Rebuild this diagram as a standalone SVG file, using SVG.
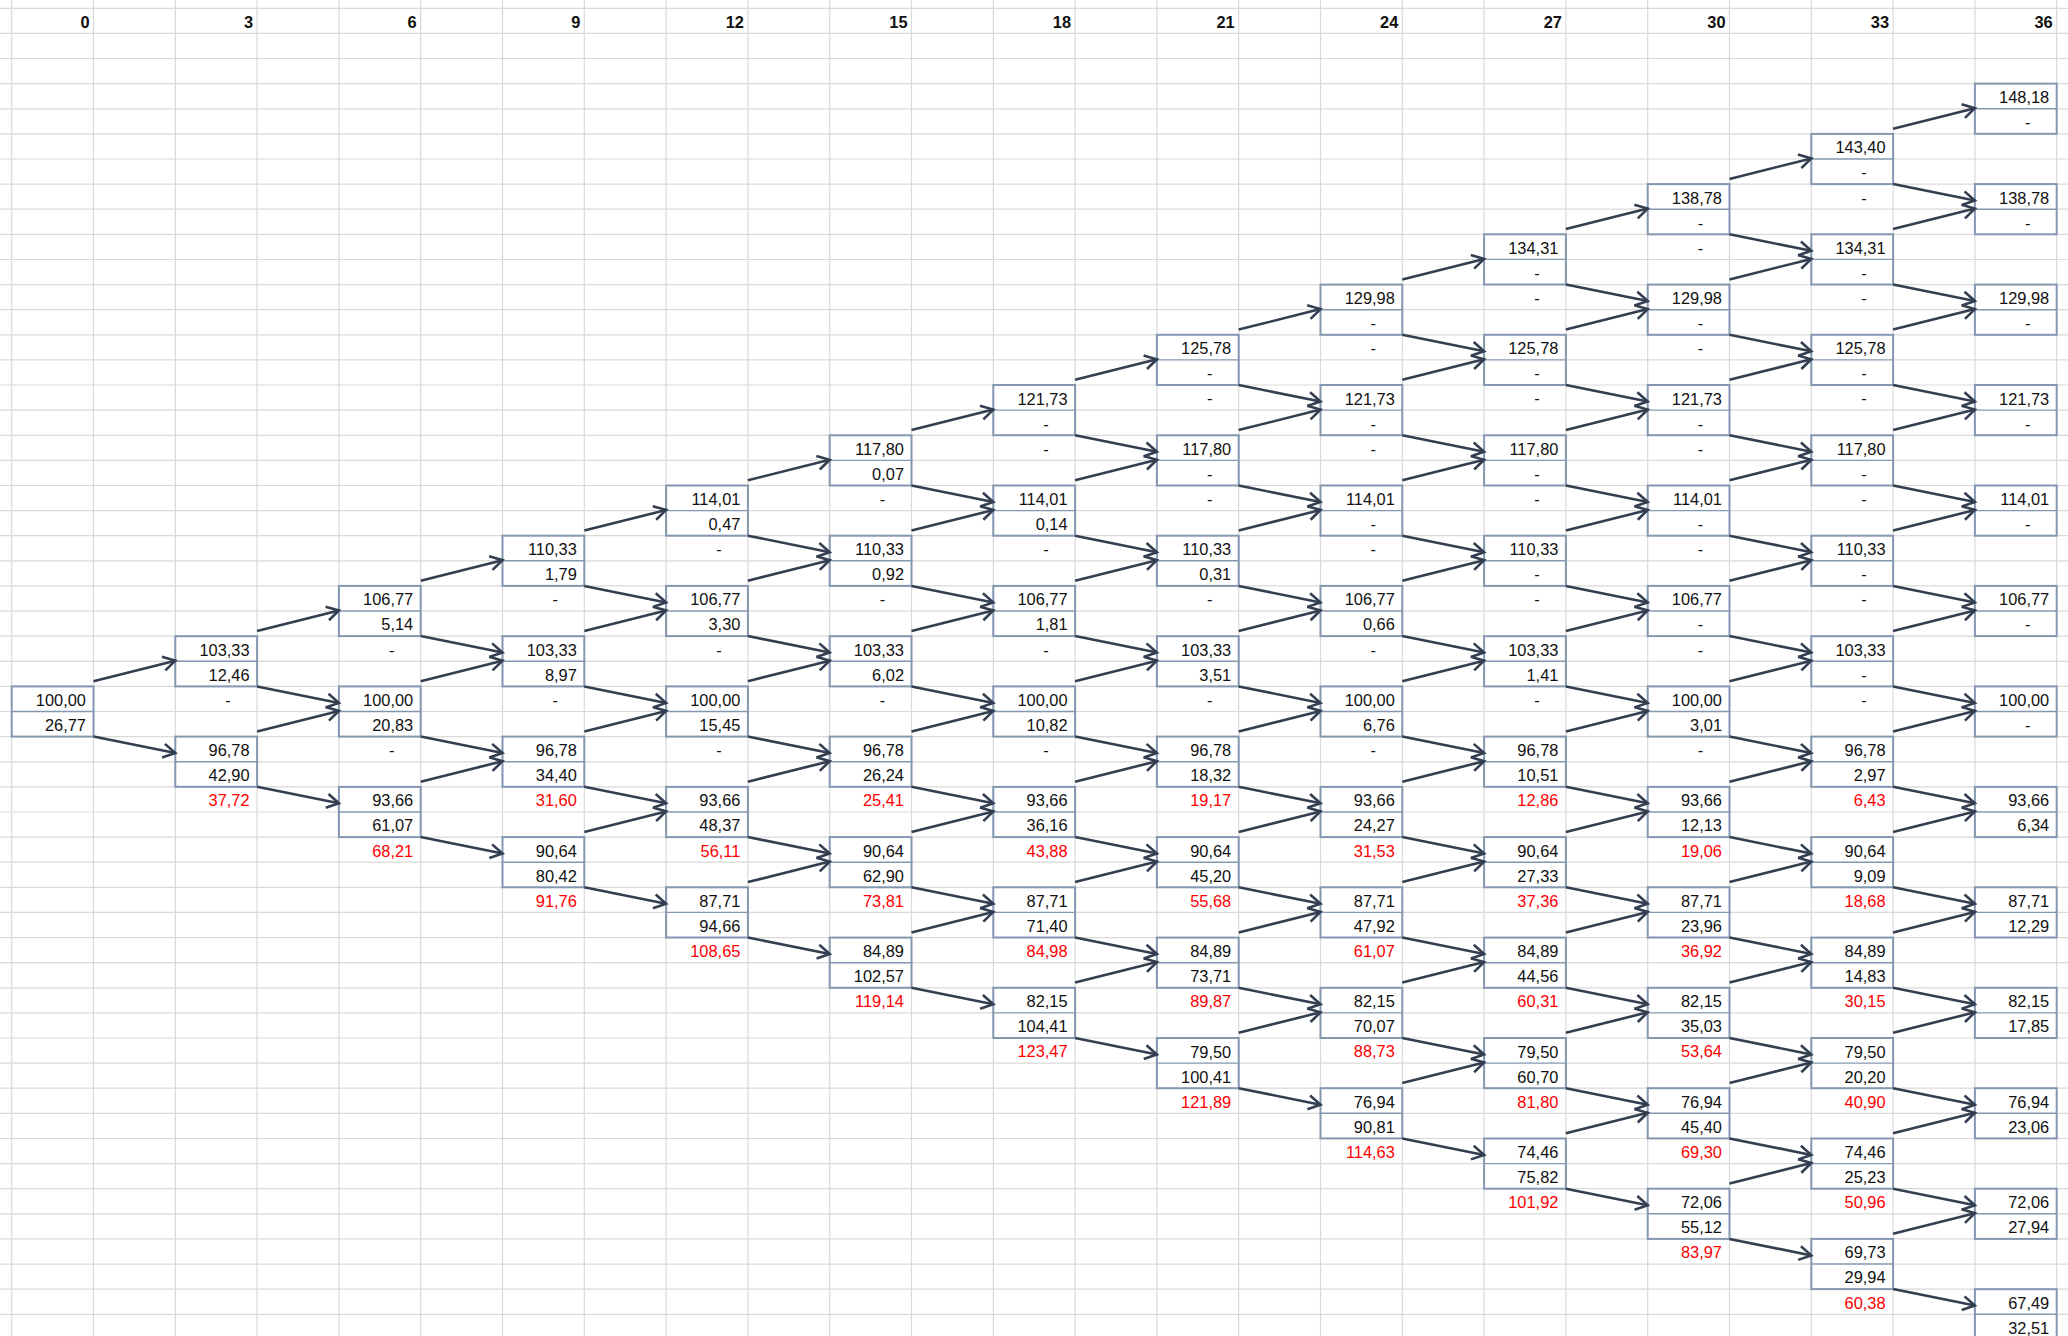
<svg xmlns="http://www.w3.org/2000/svg" width="2068" height="1336" viewBox="0 0 2068 1336">
<style>
.g{stroke:#D9D9D9;stroke-width:1.2;fill:none}
.b{fill:#fff;stroke:#8497B0;stroke-width:2}
.m{stroke:#8497B0;stroke-width:1.4;fill:none}
text{font-family:"Liberation Sans",Arial,sans-serif;font-size:16.4px;fill:#111}
.n{text-anchor:end}
.d{text-anchor:middle}
.r{fill:#FF0000}
.h{font-weight:bold;text-anchor:end}
.a{stroke:#333F50;stroke-width:2.6;fill:none;marker-end:url(#ah)}
</style>
<defs>
<marker id="ah" markerUnits="userSpaceOnUse" markerWidth="20" markerHeight="20" viewBox="-15 -10 20 20" refX="0" refY="0" orient="auto" overflow="visible">
<path d="M-12,-7 L0,0 L-12,7" fill="none" stroke="#333F50" stroke-width="2.6" stroke-linejoin="miter"/>
</marker>
</defs>
<rect width="2068" height="1336" fill="#fff"/>
<g id="grid">
<path class="g" d="M11.7,0V1336M93.5,0V1336M175.3,0V1336M257.1,0V1336M338.9,0V1336M420.7,0V1336M502.5,0V1336M584.3,0V1336M666.1,0V1336M747.9,0V1336M829.7,0V1336M911.5,0V1336M993.3,0V1336M1075.1,0V1336M1156.9,0V1336M1238.7,0V1336M1320.5,0V1336M1402.3,0V1336M1484.1,0V1336M1565.9,0V1336M1647.7,0V1336M1729.5,0V1336M1811.3,0V1336M1893.1,0V1336M1974.9,0V1336M2056.7,0V1336"/>
<path class="g" d="M0,8.3H2068M0,33.4H2068M0,58.5H2068M0,83.6H2068M0,108.8H2068M0,133.9H2068M0,159H2068M0,184.1H2068M0,209.2H2068M0,234.3H2068M0,259.5H2068M0,284.6H2068M0,309.7H2068M0,334.8H2068M0,359.9H2068M0,385H2068M0,410.1H2068M0,435.3H2068M0,460.4H2068M0,485.5H2068M0,510.6H2068M0,535.7H2068M0,560.8H2068M0,585.9H2068M0,611.1H2068M0,636.2H2068M0,661.3H2068M0,686.4H2068M0,711.5H2068M0,736.6H2068M0,761.8H2068M0,786.9H2068M0,812H2068M0,837.1H2068M0,862.2H2068M0,887.3H2068M0,912.4H2068M0,937.6H2068M0,962.7H2068M0,987.8H2068M0,1012.9H2068M0,1038H2068M0,1063.1H2068M0,1088.2H2068M0,1113.4H2068M0,1138.5H2068M0,1163.6H2068M0,1188.7H2068M0,1213.8H2068M0,1238.9H2068M0,1264.1H2068M0,1289.2H2068M0,1314.3H2068"/>
</g>
<g id="header">
<text class="h" x="89.5" y="27.8">0</text>
<text class="h" x="253.1" y="27.8">3</text>
<text class="h" x="416.7" y="27.8">6</text>
<text class="h" x="580.3" y="27.8">9</text>
<text class="h" x="743.9" y="27.8">12</text>
<text class="h" x="907.5" y="27.8">15</text>
<text class="h" x="1071.1" y="27.8">18</text>
<text class="h" x="1234.7" y="27.8">21</text>
<text class="h" x="1398.3" y="27.8">24</text>
<text class="h" x="1561.9" y="27.8">27</text>
<text class="h" x="1725.5" y="27.8">30</text>
<text class="h" x="1889.1" y="27.8">33</text>
<text class="h" x="2052.7" y="27.8">36</text>
</g>
<g id="nodes">
<g id="n0_0" transform="translate(11.7,686.4)"><rect class="b" width="81.8" height="50.2"/><path class="m" d="M0,25.1h81.8"/><text class="n" x="74.3" y="19.5">100,00</text><text class="n" x="74.3" y="44.6">26,77</text></g>

<g id="n1_p1" transform="translate(175.3,636.2)"><rect class="b" width="81.8" height="50.2"/><path class="m" d="M0,25.1h81.8"/><text class="n" x="74.3" y="19.5">103,33</text><text class="n" x="74.3" y="44.6">12,46</text><text class="d" x="52.8" y="69.7">-</text></g>
<g id="n1_m1" transform="translate(175.3,736.6)"><rect class="b" width="81.8" height="50.2"/><path class="m" d="M0,25.1h81.8"/><text class="n" x="74.3" y="19.5">96,78</text><text class="n" x="74.3" y="44.6">42,90</text><text class="n r" x="74.3" y="69.7">37,72</text></g>

<g id="n2_p2" transform="translate(338.9,585.9)"><rect class="b" width="81.8" height="50.2"/><path class="m" d="M0,25.1h81.8"/><text class="n" x="74.3" y="19.5">106,77</text><text class="n" x="74.3" y="44.6">5,14</text><text class="d" x="52.8" y="69.7">-</text></g>
<g id="n2_0" transform="translate(338.9,686.4)"><rect class="b" width="81.8" height="50.2"/><path class="m" d="M0,25.1h81.8"/><text class="n" x="74.3" y="19.5">100,00</text><text class="n" x="74.3" y="44.6">20,83</text><text class="d" x="52.8" y="69.7">-</text></g>
<g id="n2_m2" transform="translate(338.9,786.9)"><rect class="b" width="81.8" height="50.2"/><path class="m" d="M0,25.1h81.8"/><text class="n" x="74.3" y="19.5">93,66</text><text class="n" x="74.3" y="44.6">61,07</text><text class="n r" x="74.3" y="69.7">68,21</text></g>

<g id="n3_p3" transform="translate(502.5,535.7)"><rect class="b" width="81.8" height="50.2"/><path class="m" d="M0,25.1h81.8"/><text class="n" x="74.3" y="19.5">110,33</text><text class="n" x="74.3" y="44.6">1,79</text><text class="d" x="52.8" y="69.7">-</text></g>
<g id="n3_p1" transform="translate(502.5,636.2)"><rect class="b" width="81.8" height="50.2"/><path class="m" d="M0,25.1h81.8"/><text class="n" x="74.3" y="19.5">103,33</text><text class="n" x="74.3" y="44.6">8,97</text><text class="d" x="52.8" y="69.7">-</text></g>
<g id="n3_m1" transform="translate(502.5,736.6)"><rect class="b" width="81.8" height="50.2"/><path class="m" d="M0,25.1h81.8"/><text class="n" x="74.3" y="19.5">96,78</text><text class="n" x="74.3" y="44.6">34,40</text><text class="n r" x="74.3" y="69.7">31,60</text></g>
<g id="n3_m3" transform="translate(502.5,837.1)"><rect class="b" width="81.8" height="50.2"/><path class="m" d="M0,25.1h81.8"/><text class="n" x="74.3" y="19.5">90,64</text><text class="n" x="74.3" y="44.6">80,42</text><text class="n r" x="74.3" y="69.7">91,76</text></g>

<g id="n4_p4" transform="translate(666.1,485.5)"><rect class="b" width="81.8" height="50.2"/><path class="m" d="M0,25.1h81.8"/><text class="n" x="74.3" y="19.5">114,01</text><text class="n" x="74.3" y="44.6">0,47</text><text class="d" x="52.8" y="69.7">-</text></g>
<g id="n4_p2" transform="translate(666.1,585.9)"><rect class="b" width="81.8" height="50.2"/><path class="m" d="M0,25.1h81.8"/><text class="n" x="74.3" y="19.5">106,77</text><text class="n" x="74.3" y="44.6">3,30</text><text class="d" x="52.8" y="69.7">-</text></g>
<g id="n4_0" transform="translate(666.1,686.4)"><rect class="b" width="81.8" height="50.2"/><path class="m" d="M0,25.1h81.8"/><text class="n" x="74.3" y="19.5">100,00</text><text class="n" x="74.3" y="44.6">15,45</text><text class="d" x="52.8" y="69.7">-</text></g>
<g id="n4_m2" transform="translate(666.1,786.9)"><rect class="b" width="81.8" height="50.2"/><path class="m" d="M0,25.1h81.8"/><text class="n" x="74.3" y="19.5">93,66</text><text class="n" x="74.3" y="44.6">48,37</text><text class="n r" x="74.3" y="69.7">56,11</text></g>
<g id="n4_m4" transform="translate(666.1,887.3)"><rect class="b" width="81.8" height="50.2"/><path class="m" d="M0,25.1h81.8"/><text class="n" x="74.3" y="19.5">87,71</text><text class="n" x="74.3" y="44.6">94,66</text><text class="n r" x="74.3" y="69.7">108,65</text></g>

<g id="n5_p5" transform="translate(829.7,435.3)"><rect class="b" width="81.8" height="50.2"/><path class="m" d="M0,25.1h81.8"/><text class="n" x="74.3" y="19.5">117,80</text><text class="n" x="74.3" y="44.6">0,07</text><text class="d" x="52.8" y="69.7">-</text></g>
<g id="n5_p3" transform="translate(829.7,535.7)"><rect class="b" width="81.8" height="50.2"/><path class="m" d="M0,25.1h81.8"/><text class="n" x="74.3" y="19.5">110,33</text><text class="n" x="74.3" y="44.6">0,92</text><text class="d" x="52.8" y="69.7">-</text></g>
<g id="n5_p1" transform="translate(829.7,636.2)"><rect class="b" width="81.8" height="50.2"/><path class="m" d="M0,25.1h81.8"/><text class="n" x="74.3" y="19.5">103,33</text><text class="n" x="74.3" y="44.6">6,02</text><text class="d" x="52.8" y="69.7">-</text></g>
<g id="n5_m1" transform="translate(829.7,736.6)"><rect class="b" width="81.8" height="50.2"/><path class="m" d="M0,25.1h81.8"/><text class="n" x="74.3" y="19.5">96,78</text><text class="n" x="74.3" y="44.6">26,24</text><text class="n r" x="74.3" y="69.7">25,41</text></g>
<g id="n5_m3" transform="translate(829.7,837.1)"><rect class="b" width="81.8" height="50.2"/><path class="m" d="M0,25.1h81.8"/><text class="n" x="74.3" y="19.5">90,64</text><text class="n" x="74.3" y="44.6">62,90</text><text class="n r" x="74.3" y="69.7">73,81</text></g>
<g id="n5_m5" transform="translate(829.7,937.6)"><rect class="b" width="81.8" height="50.2"/><path class="m" d="M0,25.1h81.8"/><text class="n" x="74.3" y="19.5">84,89</text><text class="n" x="74.3" y="44.6">102,57</text><text class="n r" x="74.3" y="69.7">119,14</text></g>

<g id="n6_p6" transform="translate(993.3,385)"><rect class="b" width="81.8" height="50.2"/><path class="m" d="M0,25.1h81.8"/><text class="n" x="74.3" y="19.5">121,73</text><text class="d" x="52.8" y="44.6">-</text><text class="d" x="52.8" y="69.7">-</text></g>
<g id="n6_p4" transform="translate(993.3,485.5)"><rect class="b" width="81.8" height="50.2"/><path class="m" d="M0,25.1h81.8"/><text class="n" x="74.3" y="19.5">114,01</text><text class="n" x="74.3" y="44.6">0,14</text><text class="d" x="52.8" y="69.7">-</text></g>
<g id="n6_p2" transform="translate(993.3,585.9)"><rect class="b" width="81.8" height="50.2"/><path class="m" d="M0,25.1h81.8"/><text class="n" x="74.3" y="19.5">106,77</text><text class="n" x="74.3" y="44.6">1,81</text><text class="d" x="52.8" y="69.7">-</text></g>
<g id="n6_0" transform="translate(993.3,686.4)"><rect class="b" width="81.8" height="50.2"/><path class="m" d="M0,25.1h81.8"/><text class="n" x="74.3" y="19.5">100,00</text><text class="n" x="74.3" y="44.6">10,82</text><text class="d" x="52.8" y="69.7">-</text></g>
<g id="n6_m2" transform="translate(993.3,786.9)"><rect class="b" width="81.8" height="50.2"/><path class="m" d="M0,25.1h81.8"/><text class="n" x="74.3" y="19.5">93,66</text><text class="n" x="74.3" y="44.6">36,16</text><text class="n r" x="74.3" y="69.7">43,88</text></g>
<g id="n6_m4" transform="translate(993.3,887.3)"><rect class="b" width="81.8" height="50.2"/><path class="m" d="M0,25.1h81.8"/><text class="n" x="74.3" y="19.5">87,71</text><text class="n" x="74.3" y="44.6">71,40</text><text class="n r" x="74.3" y="69.7">84,98</text></g>
<g id="n6_m6" transform="translate(993.3,987.8)"><rect class="b" width="81.8" height="50.2"/><path class="m" d="M0,25.1h81.8"/><text class="n" x="74.3" y="19.5">82,15</text><text class="n" x="74.3" y="44.6">104,41</text><text class="n r" x="74.3" y="69.7">123,47</text></g>

<g id="n7_p7" transform="translate(1156.9,334.8)"><rect class="b" width="81.8" height="50.2"/><path class="m" d="M0,25.1h81.8"/><text class="n" x="74.3" y="19.5">125,78</text><text class="d" x="52.8" y="44.6">-</text><text class="d" x="52.8" y="69.7">-</text></g>
<g id="n7_p5" transform="translate(1156.9,435.3)"><rect class="b" width="81.8" height="50.2"/><path class="m" d="M0,25.1h81.8"/><text class="n" x="74.3" y="19.5">117,80</text><text class="d" x="52.8" y="44.6">-</text><text class="d" x="52.8" y="69.7">-</text></g>
<g id="n7_p3" transform="translate(1156.9,535.7)"><rect class="b" width="81.8" height="50.2"/><path class="m" d="M0,25.1h81.8"/><text class="n" x="74.3" y="19.5">110,33</text><text class="n" x="74.3" y="44.6">0,31</text><text class="d" x="52.8" y="69.7">-</text></g>
<g id="n7_p1" transform="translate(1156.9,636.2)"><rect class="b" width="81.8" height="50.2"/><path class="m" d="M0,25.1h81.8"/><text class="n" x="74.3" y="19.5">103,33</text><text class="n" x="74.3" y="44.6">3,51</text><text class="d" x="52.8" y="69.7">-</text></g>
<g id="n7_m1" transform="translate(1156.9,736.6)"><rect class="b" width="81.8" height="50.2"/><path class="m" d="M0,25.1h81.8"/><text class="n" x="74.3" y="19.5">96,78</text><text class="n" x="74.3" y="44.6">18,32</text><text class="n r" x="74.3" y="69.7">19,17</text></g>
<g id="n7_m3" transform="translate(1156.9,837.1)"><rect class="b" width="81.8" height="50.2"/><path class="m" d="M0,25.1h81.8"/><text class="n" x="74.3" y="19.5">90,64</text><text class="n" x="74.3" y="44.6">45,20</text><text class="n r" x="74.3" y="69.7">55,68</text></g>
<g id="n7_m5" transform="translate(1156.9,937.6)"><rect class="b" width="81.8" height="50.2"/><path class="m" d="M0,25.1h81.8"/><text class="n" x="74.3" y="19.5">84,89</text><text class="n" x="74.3" y="44.6">73,71</text><text class="n r" x="74.3" y="69.7">89,87</text></g>
<g id="n7_m7" transform="translate(1156.9,1038)"><rect class="b" width="81.8" height="50.2"/><path class="m" d="M0,25.1h81.8"/><text class="n" x="74.3" y="19.5">79,50</text><text class="n" x="74.3" y="44.6">100,41</text><text class="n r" x="74.3" y="69.7">121,89</text></g>

<g id="n8_p8" transform="translate(1320.5,284.6)"><rect class="b" width="81.8" height="50.2"/><path class="m" d="M0,25.1h81.8"/><text class="n" x="74.3" y="19.5">129,98</text><text class="d" x="52.8" y="44.6">-</text><text class="d" x="52.8" y="69.7">-</text></g>
<g id="n8_p6" transform="translate(1320.5,385)"><rect class="b" width="81.8" height="50.2"/><path class="m" d="M0,25.1h81.8"/><text class="n" x="74.3" y="19.5">121,73</text><text class="d" x="52.8" y="44.6">-</text><text class="d" x="52.8" y="69.7">-</text></g>
<g id="n8_p4" transform="translate(1320.5,485.5)"><rect class="b" width="81.8" height="50.2"/><path class="m" d="M0,25.1h81.8"/><text class="n" x="74.3" y="19.5">114,01</text><text class="d" x="52.8" y="44.6">-</text><text class="d" x="52.8" y="69.7">-</text></g>
<g id="n8_p2" transform="translate(1320.5,585.9)"><rect class="b" width="81.8" height="50.2"/><path class="m" d="M0,25.1h81.8"/><text class="n" x="74.3" y="19.5">106,77</text><text class="n" x="74.3" y="44.6">0,66</text><text class="d" x="52.8" y="69.7">-</text></g>
<g id="n8_0" transform="translate(1320.5,686.4)"><rect class="b" width="81.8" height="50.2"/><path class="m" d="M0,25.1h81.8"/><text class="n" x="74.3" y="19.5">100,00</text><text class="n" x="74.3" y="44.6">6,76</text><text class="d" x="52.8" y="69.7">-</text></g>
<g id="n8_m2" transform="translate(1320.5,786.9)"><rect class="b" width="81.8" height="50.2"/><path class="m" d="M0,25.1h81.8"/><text class="n" x="74.3" y="19.5">93,66</text><text class="n" x="74.3" y="44.6">24,27</text><text class="n r" x="74.3" y="69.7">31,53</text></g>
<g id="n8_m4" transform="translate(1320.5,887.3)"><rect class="b" width="81.8" height="50.2"/><path class="m" d="M0,25.1h81.8"/><text class="n" x="74.3" y="19.5">87,71</text><text class="n" x="74.3" y="44.6">47,92</text><text class="n r" x="74.3" y="69.7">61,07</text></g>
<g id="n8_m6" transform="translate(1320.5,987.8)"><rect class="b" width="81.8" height="50.2"/><path class="m" d="M0,25.1h81.8"/><text class="n" x="74.3" y="19.5">82,15</text><text class="n" x="74.3" y="44.6">70,07</text><text class="n r" x="74.3" y="69.7">88,73</text></g>
<g id="n8_m8" transform="translate(1320.5,1088.2)"><rect class="b" width="81.8" height="50.2"/><path class="m" d="M0,25.1h81.8"/><text class="n" x="74.3" y="19.5">76,94</text><text class="n" x="74.3" y="44.6">90,81</text><text class="n r" x="74.3" y="69.7">114,63</text></g>

<g id="n9_p9" transform="translate(1484.1,234.3)"><rect class="b" width="81.8" height="50.2"/><path class="m" d="M0,25.1h81.8"/><text class="n" x="74.3" y="19.5">134,31</text><text class="d" x="52.8" y="44.6">-</text><text class="d" x="52.8" y="69.7">-</text></g>
<g id="n9_p7" transform="translate(1484.1,334.8)"><rect class="b" width="81.8" height="50.2"/><path class="m" d="M0,25.1h81.8"/><text class="n" x="74.3" y="19.5">125,78</text><text class="d" x="52.8" y="44.6">-</text><text class="d" x="52.8" y="69.7">-</text></g>
<g id="n9_p5" transform="translate(1484.1,435.3)"><rect class="b" width="81.8" height="50.2"/><path class="m" d="M0,25.1h81.8"/><text class="n" x="74.3" y="19.5">117,80</text><text class="d" x="52.8" y="44.6">-</text><text class="d" x="52.8" y="69.7">-</text></g>
<g id="n9_p3" transform="translate(1484.1,535.7)"><rect class="b" width="81.8" height="50.2"/><path class="m" d="M0,25.1h81.8"/><text class="n" x="74.3" y="19.5">110,33</text><text class="d" x="52.8" y="44.6">-</text><text class="d" x="52.8" y="69.7">-</text></g>
<g id="n9_p1" transform="translate(1484.1,636.2)"><rect class="b" width="81.8" height="50.2"/><path class="m" d="M0,25.1h81.8"/><text class="n" x="74.3" y="19.5">103,33</text><text class="n" x="74.3" y="44.6">1,41</text><text class="d" x="52.8" y="69.7">-</text></g>
<g id="n9_m1" transform="translate(1484.1,736.6)"><rect class="b" width="81.8" height="50.2"/><path class="m" d="M0,25.1h81.8"/><text class="n" x="74.3" y="19.5">96,78</text><text class="n" x="74.3" y="44.6">10,51</text><text class="n r" x="74.3" y="69.7">12,86</text></g>
<g id="n9_m3" transform="translate(1484.1,837.1)"><rect class="b" width="81.8" height="50.2"/><path class="m" d="M0,25.1h81.8"/><text class="n" x="74.3" y="19.5">90,64</text><text class="n" x="74.3" y="44.6">27,33</text><text class="n r" x="74.3" y="69.7">37,36</text></g>
<g id="n9_m5" transform="translate(1484.1,937.6)"><rect class="b" width="81.8" height="50.2"/><path class="m" d="M0,25.1h81.8"/><text class="n" x="74.3" y="19.5">84,89</text><text class="n" x="74.3" y="44.6">44,56</text><text class="n r" x="74.3" y="69.7">60,31</text></g>
<g id="n9_m7" transform="translate(1484.1,1038)"><rect class="b" width="81.8" height="50.2"/><path class="m" d="M0,25.1h81.8"/><text class="n" x="74.3" y="19.5">79,50</text><text class="n" x="74.3" y="44.6">60,70</text><text class="n r" x="74.3" y="69.7">81,80</text></g>
<g id="n9_m9" transform="translate(1484.1,1138.5)"><rect class="b" width="81.8" height="50.2"/><path class="m" d="M0,25.1h81.8"/><text class="n" x="74.3" y="19.5">74,46</text><text class="n" x="74.3" y="44.6">75,82</text><text class="n r" x="74.3" y="69.7">101,92</text></g>

<g id="n10_p10" transform="translate(1647.7,184.1)"><rect class="b" width="81.8" height="50.2"/><path class="m" d="M0,25.1h81.8"/><text class="n" x="74.3" y="19.5">138,78</text><text class="d" x="52.8" y="44.6">-</text><text class="d" x="52.8" y="69.7">-</text></g>
<g id="n10_p8" transform="translate(1647.7,284.6)"><rect class="b" width="81.8" height="50.2"/><path class="m" d="M0,25.1h81.8"/><text class="n" x="74.3" y="19.5">129,98</text><text class="d" x="52.8" y="44.6">-</text><text class="d" x="52.8" y="69.7">-</text></g>
<g id="n10_p6" transform="translate(1647.7,385)"><rect class="b" width="81.8" height="50.2"/><path class="m" d="M0,25.1h81.8"/><text class="n" x="74.3" y="19.5">121,73</text><text class="d" x="52.8" y="44.6">-</text><text class="d" x="52.8" y="69.7">-</text></g>
<g id="n10_p4" transform="translate(1647.7,485.5)"><rect class="b" width="81.8" height="50.2"/><path class="m" d="M0,25.1h81.8"/><text class="n" x="74.3" y="19.5">114,01</text><text class="d" x="52.8" y="44.6">-</text><text class="d" x="52.8" y="69.7">-</text></g>
<g id="n10_p2" transform="translate(1647.7,585.9)"><rect class="b" width="81.8" height="50.2"/><path class="m" d="M0,25.1h81.8"/><text class="n" x="74.3" y="19.5">106,77</text><text class="d" x="52.8" y="44.6">-</text><text class="d" x="52.8" y="69.7">-</text></g>
<g id="n10_0" transform="translate(1647.7,686.4)"><rect class="b" width="81.8" height="50.2"/><path class="m" d="M0,25.1h81.8"/><text class="n" x="74.3" y="19.5">100,00</text><text class="n" x="74.3" y="44.6">3,01</text><text class="d" x="52.8" y="69.7">-</text></g>
<g id="n10_m2" transform="translate(1647.7,786.9)"><rect class="b" width="81.8" height="50.2"/><path class="m" d="M0,25.1h81.8"/><text class="n" x="74.3" y="19.5">93,66</text><text class="n" x="74.3" y="44.6">12,13</text><text class="n r" x="74.3" y="69.7">19,06</text></g>
<g id="n10_m4" transform="translate(1647.7,887.3)"><rect class="b" width="81.8" height="50.2"/><path class="m" d="M0,25.1h81.8"/><text class="n" x="74.3" y="19.5">87,71</text><text class="n" x="74.3" y="44.6">23,96</text><text class="n r" x="74.3" y="69.7">36,92</text></g>
<g id="n10_m6" transform="translate(1647.7,987.8)"><rect class="b" width="81.8" height="50.2"/><path class="m" d="M0,25.1h81.8"/><text class="n" x="74.3" y="19.5">82,15</text><text class="n" x="74.3" y="44.6">35,03</text><text class="n r" x="74.3" y="69.7">53,64</text></g>
<g id="n10_m8" transform="translate(1647.7,1088.2)"><rect class="b" width="81.8" height="50.2"/><path class="m" d="M0,25.1h81.8"/><text class="n" x="74.3" y="19.5">76,94</text><text class="n" x="74.3" y="44.6">45,40</text><text class="n r" x="74.3" y="69.7">69,30</text></g>
<g id="n10_m10" transform="translate(1647.7,1188.7)"><rect class="b" width="81.8" height="50.2"/><path class="m" d="M0,25.1h81.8"/><text class="n" x="74.3" y="19.5">72,06</text><text class="n" x="74.3" y="44.6">55,12</text><text class="n r" x="74.3" y="69.7">83,97</text></g>

<g id="n11_p11" transform="translate(1811.3,133.9)"><rect class="b" width="81.8" height="50.2"/><path class="m" d="M0,25.1h81.8"/><text class="n" x="74.3" y="19.5">143,40</text><text class="d" x="52.8" y="44.6">-</text><text class="d" x="52.8" y="69.7">-</text></g>
<g id="n11_p9" transform="translate(1811.3,234.3)"><rect class="b" width="81.8" height="50.2"/><path class="m" d="M0,25.1h81.8"/><text class="n" x="74.3" y="19.5">134,31</text><text class="d" x="52.8" y="44.6">-</text><text class="d" x="52.8" y="69.7">-</text></g>
<g id="n11_p7" transform="translate(1811.3,334.8)"><rect class="b" width="81.8" height="50.2"/><path class="m" d="M0,25.1h81.8"/><text class="n" x="74.3" y="19.5">125,78</text><text class="d" x="52.8" y="44.6">-</text><text class="d" x="52.8" y="69.7">-</text></g>
<g id="n11_p5" transform="translate(1811.3,435.3)"><rect class="b" width="81.8" height="50.2"/><path class="m" d="M0,25.1h81.8"/><text class="n" x="74.3" y="19.5">117,80</text><text class="d" x="52.8" y="44.6">-</text><text class="d" x="52.8" y="69.7">-</text></g>
<g id="n11_p3" transform="translate(1811.3,535.7)"><rect class="b" width="81.8" height="50.2"/><path class="m" d="M0,25.1h81.8"/><text class="n" x="74.3" y="19.5">110,33</text><text class="d" x="52.8" y="44.6">-</text><text class="d" x="52.8" y="69.7">-</text></g>
<g id="n11_p1" transform="translate(1811.3,636.2)"><rect class="b" width="81.8" height="50.2"/><path class="m" d="M0,25.1h81.8"/><text class="n" x="74.3" y="19.5">103,33</text><text class="d" x="52.8" y="44.6">-</text><text class="d" x="52.8" y="69.7">-</text></g>
<g id="n11_m1" transform="translate(1811.3,736.6)"><rect class="b" width="81.8" height="50.2"/><path class="m" d="M0,25.1h81.8"/><text class="n" x="74.3" y="19.5">96,78</text><text class="n" x="74.3" y="44.6">2,97</text><text class="n r" x="74.3" y="69.7">6,43</text></g>
<g id="n11_m3" transform="translate(1811.3,837.1)"><rect class="b" width="81.8" height="50.2"/><path class="m" d="M0,25.1h81.8"/><text class="n" x="74.3" y="19.5">90,64</text><text class="n" x="74.3" y="44.6">9,09</text><text class="n r" x="74.3" y="69.7">18,68</text></g>
<g id="n11_m5" transform="translate(1811.3,937.6)"><rect class="b" width="81.8" height="50.2"/><path class="m" d="M0,25.1h81.8"/><text class="n" x="74.3" y="19.5">84,89</text><text class="n" x="74.3" y="44.6">14,83</text><text class="n r" x="74.3" y="69.7">30,15</text></g>
<g id="n11_m7" transform="translate(1811.3,1038)"><rect class="b" width="81.8" height="50.2"/><path class="m" d="M0,25.1h81.8"/><text class="n" x="74.3" y="19.5">79,50</text><text class="n" x="74.3" y="44.6">20,20</text><text class="n r" x="74.3" y="69.7">40,90</text></g>
<g id="n11_m9" transform="translate(1811.3,1138.5)"><rect class="b" width="81.8" height="50.2"/><path class="m" d="M0,25.1h81.8"/><text class="n" x="74.3" y="19.5">74,46</text><text class="n" x="74.3" y="44.6">25,23</text><text class="n r" x="74.3" y="69.7">50,96</text></g>
<g id="n11_m11" transform="translate(1811.3,1238.9)"><rect class="b" width="81.8" height="50.2"/><path class="m" d="M0,25.1h81.8"/><text class="n" x="74.3" y="19.5">69,73</text><text class="n" x="74.3" y="44.6">29,94</text><text class="n r" x="74.3" y="69.7">60,38</text></g>

<g id="n12_p12" transform="translate(1974.9,83.6)"><rect class="b" width="81.8" height="50.2"/><path class="m" d="M0,25.1h81.8"/><text class="n" x="74.3" y="19.5">148,18</text><text class="d" x="52.8" y="44.6">-</text></g>
<g id="n12_p10" transform="translate(1974.9,184.1)"><rect class="b" width="81.8" height="50.2"/><path class="m" d="M0,25.1h81.8"/><text class="n" x="74.3" y="19.5">138,78</text><text class="d" x="52.8" y="44.6">-</text></g>
<g id="n12_p8" transform="translate(1974.9,284.6)"><rect class="b" width="81.8" height="50.2"/><path class="m" d="M0,25.1h81.8"/><text class="n" x="74.3" y="19.5">129,98</text><text class="d" x="52.8" y="44.6">-</text></g>
<g id="n12_p6" transform="translate(1974.9,385)"><rect class="b" width="81.8" height="50.2"/><path class="m" d="M0,25.1h81.8"/><text class="n" x="74.3" y="19.5">121,73</text><text class="d" x="52.8" y="44.6">-</text></g>
<g id="n12_p4" transform="translate(1974.9,485.5)"><rect class="b" width="81.8" height="50.2"/><path class="m" d="M0,25.1h81.8"/><text class="n" x="74.3" y="19.5">114,01</text><text class="d" x="52.8" y="44.6">-</text></g>
<g id="n12_p2" transform="translate(1974.9,585.9)"><rect class="b" width="81.8" height="50.2"/><path class="m" d="M0,25.1h81.8"/><text class="n" x="74.3" y="19.5">106,77</text><text class="d" x="52.8" y="44.6">-</text></g>
<g id="n12_0" transform="translate(1974.9,686.4)"><rect class="b" width="81.8" height="50.2"/><path class="m" d="M0,25.1h81.8"/><text class="n" x="74.3" y="19.5">100,00</text><text class="d" x="52.8" y="44.6">-</text></g>
<g id="n12_m2" transform="translate(1974.9,786.9)"><rect class="b" width="81.8" height="50.2"/><path class="m" d="M0,25.1h81.8"/><text class="n" x="74.3" y="19.5">93,66</text><text class="n" x="74.3" y="44.6">6,34</text></g>
<g id="n12_m4" transform="translate(1974.9,887.3)"><rect class="b" width="81.8" height="50.2"/><path class="m" d="M0,25.1h81.8"/><text class="n" x="74.3" y="19.5">87,71</text><text class="n" x="74.3" y="44.6">12,29</text></g>
<g id="n12_m6" transform="translate(1974.9,987.8)"><rect class="b" width="81.8" height="50.2"/><path class="m" d="M0,25.1h81.8"/><text class="n" x="74.3" y="19.5">82,15</text><text class="n" x="74.3" y="44.6">17,85</text></g>
<g id="n12_m8" transform="translate(1974.9,1088.2)"><rect class="b" width="81.8" height="50.2"/><path class="m" d="M0,25.1h81.8"/><text class="n" x="74.3" y="19.5">76,94</text><text class="n" x="74.3" y="44.6">23,06</text></g>
<g id="n12_m10" transform="translate(1974.9,1188.7)"><rect class="b" width="81.8" height="50.2"/><path class="m" d="M0,25.1h81.8"/><text class="n" x="74.3" y="19.5">72,06</text><text class="n" x="74.3" y="44.6">27,94</text></g>
<g id="n12_m12" transform="translate(1974.9,1289.2)"><rect class="b" width="81.8" height="50.2"/><path class="m" d="M0,25.1h81.8"/><text class="n" x="74.3" y="19.5">67,49</text><text class="n" x="74.3" y="44.6">32,51</text></g>
</g>
<g id="connectors">
<path class="a" d="M93.5,681.2l81.8,-20.5"/><path class="a" d="M93.5,736.6l81.8,16.5"/>

<path class="a" d="M257.1,631l81.8,-20.5"/><path class="a" d="M257.1,686.4l81.8,16.5"/>
<path class="a" d="M257.1,731.4l81.8,-20.5"/><path class="a" d="M257.1,786.8l81.8,16.5"/>

<path class="a" d="M420.7,580.7l81.8,-20.5"/><path class="a" d="M420.7,636.1l81.8,16.5"/>
<path class="a" d="M420.7,681.2l81.8,-20.5"/><path class="a" d="M420.7,736.6l81.8,16.5"/>
<path class="a" d="M420.7,781.7l81.8,-20.5"/><path class="a" d="M420.7,837.1l81.8,16.5"/>

<path class="a" d="M584.3,530.5l81.8,-20.5"/><path class="a" d="M584.3,585.9l81.8,16.5"/>
<path class="a" d="M584.3,631l81.8,-20.5"/><path class="a" d="M584.3,686.4l81.8,16.5"/>
<path class="a" d="M584.3,731.4l81.8,-20.5"/><path class="a" d="M584.3,786.8l81.8,16.5"/>
<path class="a" d="M584.3,831.9l81.8,-20.5"/><path class="a" d="M584.3,887.3l81.8,16.5"/>

<path class="a" d="M747.9,480.3l81.8,-20.5"/><path class="a" d="M747.9,535.7l81.8,16.5"/>
<path class="a" d="M747.9,580.7l81.8,-20.5"/><path class="a" d="M747.9,636.1l81.8,16.5"/>
<path class="a" d="M747.9,681.2l81.8,-20.5"/><path class="a" d="M747.9,736.6l81.8,16.5"/>
<path class="a" d="M747.9,781.7l81.8,-20.5"/><path class="a" d="M747.9,837.1l81.8,16.5"/>
<path class="a" d="M747.9,882.1l81.8,-20.5"/><path class="a" d="M747.9,937.5l81.8,16.5"/>

<path class="a" d="M911.5,430.1l81.8,-20.5"/><path class="a" d="M911.5,485.5l81.8,16.5"/>
<path class="a" d="M911.5,530.5l81.8,-20.5"/><path class="a" d="M911.5,585.9l81.8,16.5"/>
<path class="a" d="M911.5,631l81.8,-20.5"/><path class="a" d="M911.5,686.4l81.8,16.5"/>
<path class="a" d="M911.5,731.4l81.8,-20.5"/><path class="a" d="M911.5,786.8l81.8,16.5"/>
<path class="a" d="M911.5,831.9l81.8,-20.5"/><path class="a" d="M911.5,887.3l81.8,16.5"/>
<path class="a" d="M911.5,932.4l81.8,-20.5"/><path class="a" d="M911.5,987.8l81.8,16.5"/>

<path class="a" d="M1075.1,379.8l81.8,-20.5"/><path class="a" d="M1075.1,435.2l81.8,16.5"/>
<path class="a" d="M1075.1,480.3l81.8,-20.5"/><path class="a" d="M1075.1,535.7l81.8,16.5"/>
<path class="a" d="M1075.1,580.7l81.8,-20.5"/><path class="a" d="M1075.1,636.1l81.8,16.5"/>
<path class="a" d="M1075.1,681.2l81.8,-20.5"/><path class="a" d="M1075.1,736.6l81.8,16.5"/>
<path class="a" d="M1075.1,781.7l81.8,-20.5"/><path class="a" d="M1075.1,837.1l81.8,16.5"/>
<path class="a" d="M1075.1,882.1l81.8,-20.5"/><path class="a" d="M1075.1,937.5l81.8,16.5"/>
<path class="a" d="M1075.1,982.6l81.8,-20.5"/><path class="a" d="M1075.1,1038l81.8,16.5"/>

<path class="a" d="M1238.7,329.6l81.8,-20.5"/><path class="a" d="M1238.7,385l81.8,16.5"/>
<path class="a" d="M1238.7,430.1l81.8,-20.5"/><path class="a" d="M1238.7,485.5l81.8,16.5"/>
<path class="a" d="M1238.7,530.5l81.8,-20.5"/><path class="a" d="M1238.7,585.9l81.8,16.5"/>
<path class="a" d="M1238.7,631l81.8,-20.5"/><path class="a" d="M1238.7,686.4l81.8,16.5"/>
<path class="a" d="M1238.7,731.4l81.8,-20.5"/><path class="a" d="M1238.7,786.8l81.8,16.5"/>
<path class="a" d="M1238.7,831.9l81.8,-20.5"/><path class="a" d="M1238.7,887.3l81.8,16.5"/>
<path class="a" d="M1238.7,932.4l81.8,-20.5"/><path class="a" d="M1238.7,987.8l81.8,16.5"/>
<path class="a" d="M1238.7,1032.8l81.8,-20.5"/><path class="a" d="M1238.7,1088.2l81.8,16.5"/>

<path class="a" d="M1402.3,279.4l81.8,-20.5"/><path class="a" d="M1402.3,334.8l81.8,16.5"/>
<path class="a" d="M1402.3,379.8l81.8,-20.5"/><path class="a" d="M1402.3,435.2l81.8,16.5"/>
<path class="a" d="M1402.3,480.3l81.8,-20.5"/><path class="a" d="M1402.3,535.7l81.8,16.5"/>
<path class="a" d="M1402.3,580.7l81.8,-20.5"/><path class="a" d="M1402.3,636.1l81.8,16.5"/>
<path class="a" d="M1402.3,681.2l81.8,-20.5"/><path class="a" d="M1402.3,736.6l81.8,16.5"/>
<path class="a" d="M1402.3,781.7l81.8,-20.5"/><path class="a" d="M1402.3,837.1l81.8,16.5"/>
<path class="a" d="M1402.3,882.1l81.8,-20.5"/><path class="a" d="M1402.3,937.5l81.8,16.5"/>
<path class="a" d="M1402.3,982.6l81.8,-20.5"/><path class="a" d="M1402.3,1038l81.8,16.5"/>
<path class="a" d="M1402.3,1083l81.8,-20.5"/><path class="a" d="M1402.3,1138.4l81.8,16.5"/>

<path class="a" d="M1565.9,229.1l81.8,-20.5"/><path class="a" d="M1565.9,284.5l81.8,16.5"/>
<path class="a" d="M1565.9,329.6l81.8,-20.5"/><path class="a" d="M1565.9,385l81.8,16.5"/>
<path class="a" d="M1565.9,430.1l81.8,-20.5"/><path class="a" d="M1565.9,485.5l81.8,16.5"/>
<path class="a" d="M1565.9,530.5l81.8,-20.5"/><path class="a" d="M1565.9,585.9l81.8,16.5"/>
<path class="a" d="M1565.9,631l81.8,-20.5"/><path class="a" d="M1565.9,686.4l81.8,16.5"/>
<path class="a" d="M1565.9,731.4l81.8,-20.5"/><path class="a" d="M1565.9,786.8l81.8,16.5"/>
<path class="a" d="M1565.9,831.9l81.8,-20.5"/><path class="a" d="M1565.9,887.3l81.8,16.5"/>
<path class="a" d="M1565.9,932.4l81.8,-20.5"/><path class="a" d="M1565.9,987.8l81.8,16.5"/>
<path class="a" d="M1565.9,1032.8l81.8,-20.5"/><path class="a" d="M1565.9,1088.2l81.8,16.5"/>
<path class="a" d="M1565.9,1133.3l81.8,-20.5"/><path class="a" d="M1565.9,1188.7l81.8,16.5"/>

<path class="a" d="M1729.5,178.9l81.8,-20.5"/><path class="a" d="M1729.5,234.3l81.8,16.5"/>
<path class="a" d="M1729.5,279.4l81.8,-20.5"/><path class="a" d="M1729.5,334.8l81.8,16.5"/>
<path class="a" d="M1729.5,379.8l81.8,-20.5"/><path class="a" d="M1729.5,435.2l81.8,16.5"/>
<path class="a" d="M1729.5,480.3l81.8,-20.5"/><path class="a" d="M1729.5,535.7l81.8,16.5"/>
<path class="a" d="M1729.5,580.7l81.8,-20.5"/><path class="a" d="M1729.5,636.1l81.8,16.5"/>
<path class="a" d="M1729.5,681.2l81.8,-20.5"/><path class="a" d="M1729.5,736.6l81.8,16.5"/>
<path class="a" d="M1729.5,781.7l81.8,-20.5"/><path class="a" d="M1729.5,837.1l81.8,16.5"/>
<path class="a" d="M1729.5,882.1l81.8,-20.5"/><path class="a" d="M1729.5,937.5l81.8,16.5"/>
<path class="a" d="M1729.5,982.6l81.8,-20.5"/><path class="a" d="M1729.5,1038l81.8,16.5"/>
<path class="a" d="M1729.5,1083l81.8,-20.5"/><path class="a" d="M1729.5,1138.4l81.8,16.5"/>
<path class="a" d="M1729.5,1183.5l81.8,-20.5"/><path class="a" d="M1729.5,1238.9l81.8,16.5"/>

<path class="a" d="M1893.1,128.7l81.8,-20.5"/><path class="a" d="M1893.1,184.1l81.8,16.5"/>
<path class="a" d="M1893.1,229.1l81.8,-20.5"/><path class="a" d="M1893.1,284.5l81.8,16.5"/>
<path class="a" d="M1893.1,329.6l81.8,-20.5"/><path class="a" d="M1893.1,385l81.8,16.5"/>
<path class="a" d="M1893.1,430.1l81.8,-20.5"/><path class="a" d="M1893.1,485.5l81.8,16.5"/>
<path class="a" d="M1893.1,530.5l81.8,-20.5"/><path class="a" d="M1893.1,585.9l81.8,16.5"/>
<path class="a" d="M1893.1,631l81.8,-20.5"/><path class="a" d="M1893.1,686.4l81.8,16.5"/>
<path class="a" d="M1893.1,731.4l81.8,-20.5"/><path class="a" d="M1893.1,786.8l81.8,16.5"/>
<path class="a" d="M1893.1,831.9l81.8,-20.5"/><path class="a" d="M1893.1,887.3l81.8,16.5"/>
<path class="a" d="M1893.1,932.4l81.8,-20.5"/><path class="a" d="M1893.1,987.8l81.8,16.5"/>
<path class="a" d="M1893.1,1032.8l81.8,-20.5"/><path class="a" d="M1893.1,1088.2l81.8,16.5"/>
<path class="a" d="M1893.1,1133.3l81.8,-20.5"/><path class="a" d="M1893.1,1188.7l81.8,16.5"/>
<path class="a" d="M1893.1,1233.7l81.8,-20.5"/><path class="a" d="M1893.1,1289.1l81.8,16.5"/>
</g>
</svg>
